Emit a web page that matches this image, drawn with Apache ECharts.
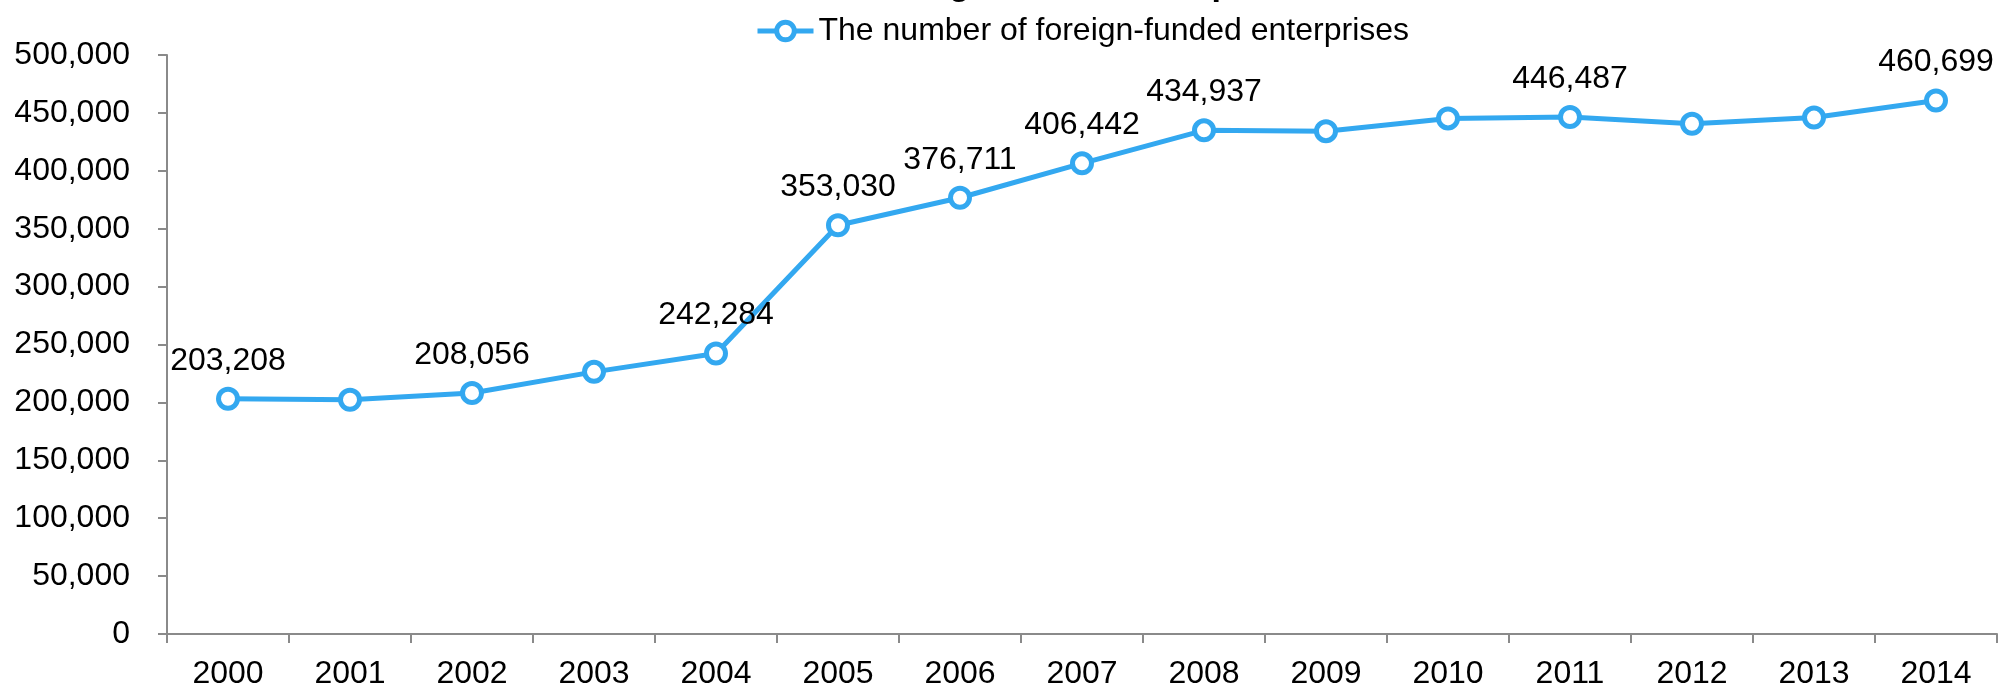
<!DOCTYPE html>
<html>
<head>
<meta charset="utf-8">
<script src="https://cdn.jsdelivr.net/npm/echarts@6/dist/echarts.min.js"></script>
<style>
  html, body { margin: 0; padding: 0; background: #fff; }
  #chart { width: 1998px; height: 690px; }
</style>
</head>
<body>
<div id="chart"></div>
<script>
var years = ['2000', '2001', '2002', '2003', '2004', '2005', '2006', '2007',
  '2008', '2009', '2010', '2011', '2012', '2013', '2014'];
var enterprises = [203208, 202306, 208056, 226373, 242284, 353030, 376711, 406442,
  434937, 434248, 445244, 446487, 440609, 445962, 460699];
// years whose value is written on the chart
var labelledYears = ['2000', '2002', '2004', '2005', '2006', '2007', '2008', '2011', '2014'];

var seriesName = 'The number of foreign-funded enterprises';
var titleText = 'Number of Foreign-funded Enterprises';

function fmt(v) {
  return String(v).replace(/\B(?=(\d{3})+(?!\d))/g, ',');
}

var chart = echarts.init(document.getElementById('chart'));

var seriesData = enterprises.map(function (v, i) {
  return {
    value: v,
    label: { show: labelledYears.indexOf(years[i]) >= 0 }
  };
});

var font = 'Liberation Sans, Arial, sans-serif';
var blue = '#33a8f0';
var axisGray = '#8a8a8a';

var option = {
  animation: false,
  textStyle: { fontFamily: font },
  title: {
    text: titleText,
    left: 'center',
    top: -36,
    textStyle: { fontSize: 34, fontWeight: 'bold', color: '#000', fontFamily: font }
  },
  legend: {
    top: 10,
    left: 750,
    itemWidth: 56,
    itemHeight: 22,
    itemGap: 4,
    textStyle: { fontSize: 32, color: '#000', fontFamily: font },
    lineStyle: { width: 5 },
    itemStyle: { borderWidth: 5 },
    data: [seriesName]
  },
  grid: {
    left: 167,
    right: 1,
    top: 55,
    bottom: 52,
    containLabel: false
  },
  xAxis: {
    type: 'category',
    data: years,
    boundaryGap: true,
    axisLine: { lineStyle: { color: axisGray, width: 2 } },
    axisTick: { show: true, length: 9, alignWithLabel: false, lineStyle: { color: axisGray, width: 2 } },
    axisLabel: { fontSize: 32, color: '#000', margin: 24, fontFamily: font },
    splitLine: { show: false }
  },
  yAxis: {
    type: 'value',
    min: 0,
    max: 500000,
    interval: 50000,
    axisLine: { show: true, lineStyle: { color: axisGray, width: 2 } },
    axisTick: { show: true, length: 9, lineStyle: { color: axisGray, width: 2 } },
    axisLabel: {
      fontSize: 32,
      color: '#000',
      margin: 37,
      fontFamily: font,
      formatter: function (v) { return fmt(v); }
    },
    splitLine: { show: false }
  },
  series: [
    {
      name: seriesName,
      type: 'line',
      data: seriesData,
      symbol: 'circle',
      symbolSize: 19,
      lineStyle: { color: blue, width: 5 },
      itemStyle: { color: '#fff', borderColor: blue, borderWidth: 5 },
      label: {
        position: 'top',
        distance: 10,
        fontSize: 32,
        color: '#000',
        fontFamily: font,
        formatter: function (p) { return fmt(p.value); }
      }
    }
  ]
};

chart.setOption(option);
window.addEventListener('resize', function () {
  chart.resize();
});
</script>
</body>
</html>
